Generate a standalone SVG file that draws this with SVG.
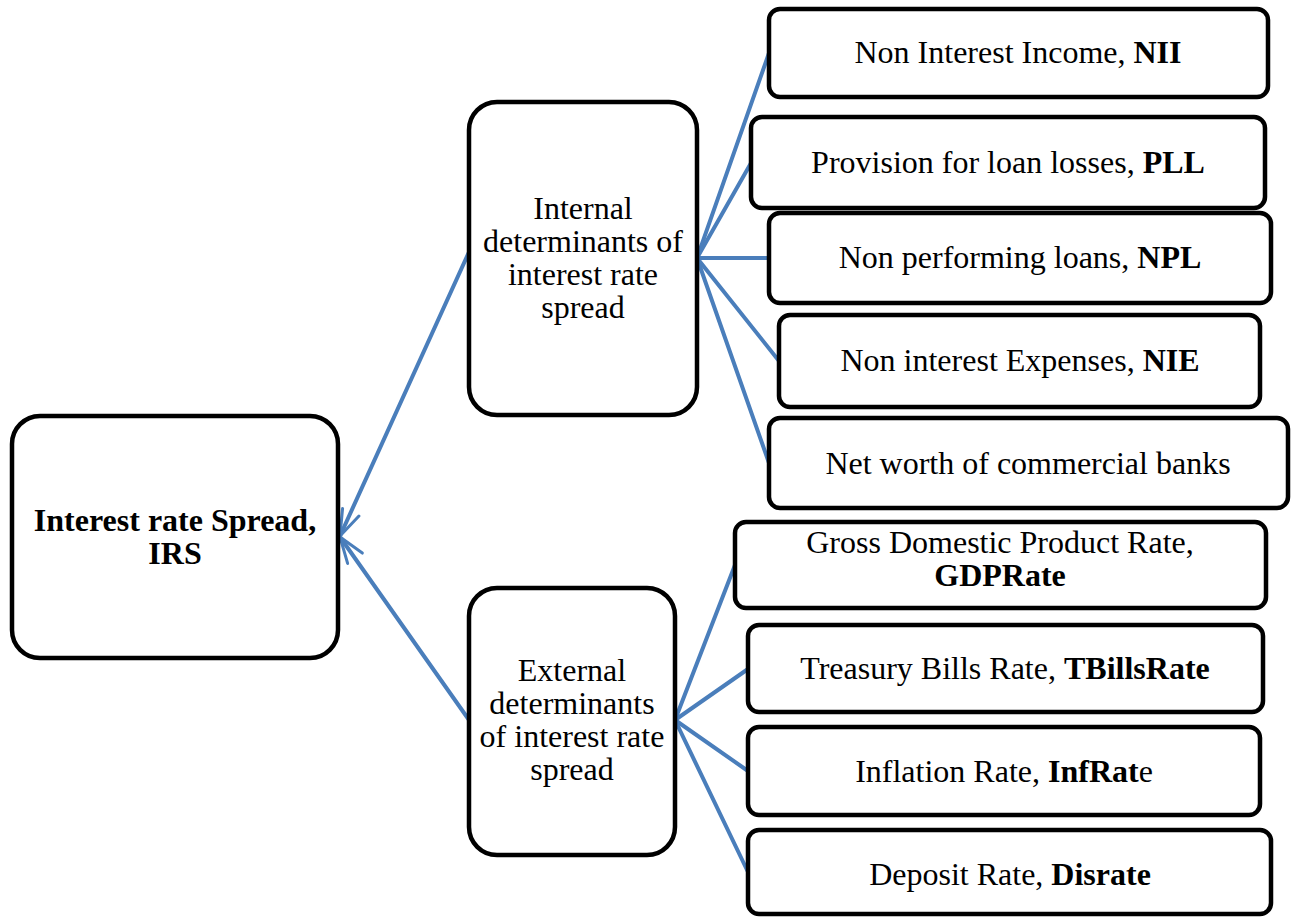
<svg xmlns="http://www.w3.org/2000/svg" width="1291" height="918" viewBox="0 0 1291 918">
<style>
.box{fill:#fff;stroke:#000;stroke-width:4.5}
.t{font-family:"Liberation Serif","Times New Roman",serif;font-size:32px;fill:#000;text-anchor:middle}
.b{font-weight:bold}
.c{stroke:#4a7ebb;stroke-width:4;fill:none;stroke-linecap:round}
</style>
<defs>
<marker id="arr" markerUnits="userSpaceOnUse" viewBox="-30 -15 35 30" markerWidth="35" markerHeight="30" refX="0" refY="0" orient="auto" overflow="visible">
<path d="M-26,-9 L0,0 L-26,9" fill="none" stroke="#4a7ebb" stroke-width="3" stroke-linecap="round" stroke-linejoin="round"/>
</marker>
</defs>
<rect width="1291" height="918" fill="#fff"/>

<g id="connectors">
<line class="c" x1="469" y1="252" x2="340" y2="536" marker-end="url(#arr)"/>
<line class="c" x1="469" y1="720" x2="340" y2="537" marker-end="url(#arr)"/>
<line class="c" x1="697" y1="258" x2="769" y2="53"/>
<line class="c" x1="697" y1="258" x2="751" y2="163"/>
<line class="c" x1="697" y1="258" x2="769" y2="258"/>
<line class="c" x1="697" y1="258" x2="779" y2="361"/>
<line class="c" x1="697" y1="258" x2="769" y2="463"/>
<line class="c" x1="675" y1="720" x2="735" y2="565"/>
<line class="c" x1="675" y1="720" x2="748" y2="669"/>
<line class="c" x1="675" y1="720" x2="748" y2="771"/>
<line class="c" x1="675" y1="720" x2="748" y2="872"/>
</g>

<g id="irs">
<rect class="box" x="12" y="416" width="326" height="242" rx="28"/>
<text class="t b" x="175" y="531">Interest rate Spread,</text>
<text class="t b" x="175" y="564">IRS</text>
</g>

<g id="internal">
<rect class="box" x="469" y="102" width="228" height="313" rx="28"/>
<text class="t" x="583" y="219">Internal</text>
<text class="t" x="583" y="252">determinants of</text>
<text class="t" x="583" y="285">interest rate</text>
<text class="t" x="583" y="318">spread</text>
</g>

<g id="external">
<rect class="box" x="469" y="588" width="206" height="267" rx="28"/>
<text class="t" x="572" y="681">External</text>
<text class="t" x="572" y="714">determinants</text>
<text class="t" x="572" y="747">of interest rate</text>
<text class="t" x="572" y="780">spread</text>
</g>

<g id="nii">
<rect class="box" x="769" y="9" width="499" height="88" rx="11"/>
<text class="t" x="1018" y="63">Non Interest Income, <tspan class="b">NII</tspan></text>
</g>

<g id="pll">
<rect class="box" x="751" y="117" width="514" height="91" rx="11"/>
<text class="t" x="1008" y="173">Provision for loan losses, <tspan class="b">PLL</tspan></text>
</g>

<g id="npl">
<rect class="box" x="769" y="213" width="502" height="90" rx="11"/>
<text class="t" x="1020" y="268">Non performing loans, <tspan class="b">NPL</tspan></text>
</g>

<g id="nie">
<rect class="box" x="779" y="315" width="481" height="92" rx="11"/>
<text class="t" x="1020" y="371">Non interest Expenses, <tspan class="b">NIE</tspan></text>
</g>

<g id="networth">
<rect class="box" x="769" y="418" width="519" height="90" rx="11"/>
<text class="t" x="1028" y="474">Net worth of commercial banks</text>
</g>

<g id="gdp">
<rect class="box" x="735" y="522" width="531" height="86" rx="11"/>
<text class="t" x="1000" y="553">Gross Domestic Product Rate,</text>
<text class="t b" x="1000" y="586">GDPRate</text>
</g>

<g id="tbills">
<rect class="box" x="748" y="625" width="515" height="87" rx="11"/>
<text class="t" x="1005" y="679">Treasury Bills Rate, <tspan class="b">TBillsRate</tspan></text>
</g>

<g id="inf">
<rect class="box" x="748" y="727" width="512" height="88" rx="11"/>
<text class="t" x="1004" y="782">Inflation Rate, <tspan class="b">InfRat</tspan>e</text>
</g>

<g id="dep">
<rect class="box" x="748" y="830" width="523" height="84" rx="11"/>
<text class="t" x="1010" y="885">Deposit Rate, <tspan class="b">Disrate</tspan></text>
</g>
</svg>
